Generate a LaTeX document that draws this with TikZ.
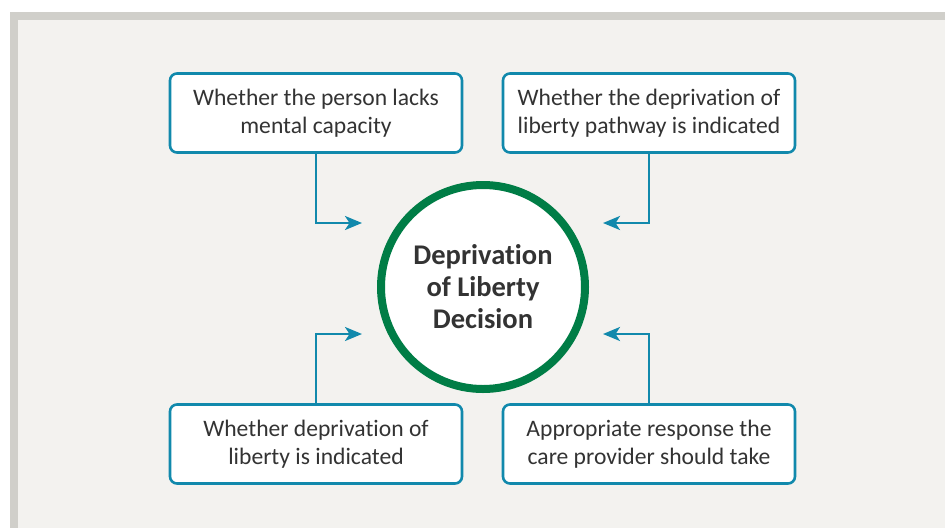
\documentclass[tikz,border=0pt]{standalone}
\usepackage{fontspec}
\setmainfont[Ligatures=NoCommon]{Carlito}
\usetikzlibrary{arrows.meta}
\definecolor{framegray}{HTML}{D0CFCA}
\definecolor{panel}{HTML}{F3F2EF}
\definecolor{teal}{HTML}{1189AC}
\definecolor{ringgreen}{HTML}{007D46}
\definecolor{ink}{HTML}{333333}
\tikzset{
  x=1pt, y=-1pt,
  infobox/.style={draw=teal, line width=2.6pt, fill=white, rounded corners=7pt,
    minimum width=292pt, minimum height=79pt, align=center, text=ink,
    font=\fontsize{23.6}{28}\selectfont, inner sep=0pt},
  hub/.style={circle, draw=ringgreen, line width=8pt, fill=white,
    minimum size=204pt, align=center, text=ink,
    font=\bfseries\fontsize{28.5}{32}\selectfont, inner sep=0pt},
  link/.style={draw=teal, line width=2.6pt,
    -{Stealth[length=17pt, width=14pt, inset=4.5pt]}}
}
\begin{document}
\begin{tikzpicture}
\useasboundingbox (0,0) rectangle (945,528);
\fill[white] (0,0) rectangle (945,528);
\fill[framegray] (10,12) rectangle (945,528);
\fill[panel] (18,20) rectangle (945,528);

\node[hub] (hub) at (483,287) {Deprivation\\of Liberty\\Decision};

\node[infobox] (tl) at (316,113) {Whether the person lacks\\mental capacity};
\node[infobox] (tr) at (649,113) {Whether the deprivation of\\liberty pathway is indicated};
\node[infobox] (bl) at (316,444) {Whether deprivation of\\liberty is indicated};
\node[infobox] (br) at (649,444) {Appropriate response the\\care provider should take};

\coordinate (tlin) at (362,223);
\coordinate (trin) at (603,223);
\coordinate (blin) at (362,334);
\coordinate (brin) at (603,334);

\draw[link] (tl.south) |- (tlin);
\draw[link] (tr.south) |- (trin);
\draw[link] (bl.north) |- (blin);
\draw[link] (br.north) |- (brin);
\end{tikzpicture}
\end{document}
